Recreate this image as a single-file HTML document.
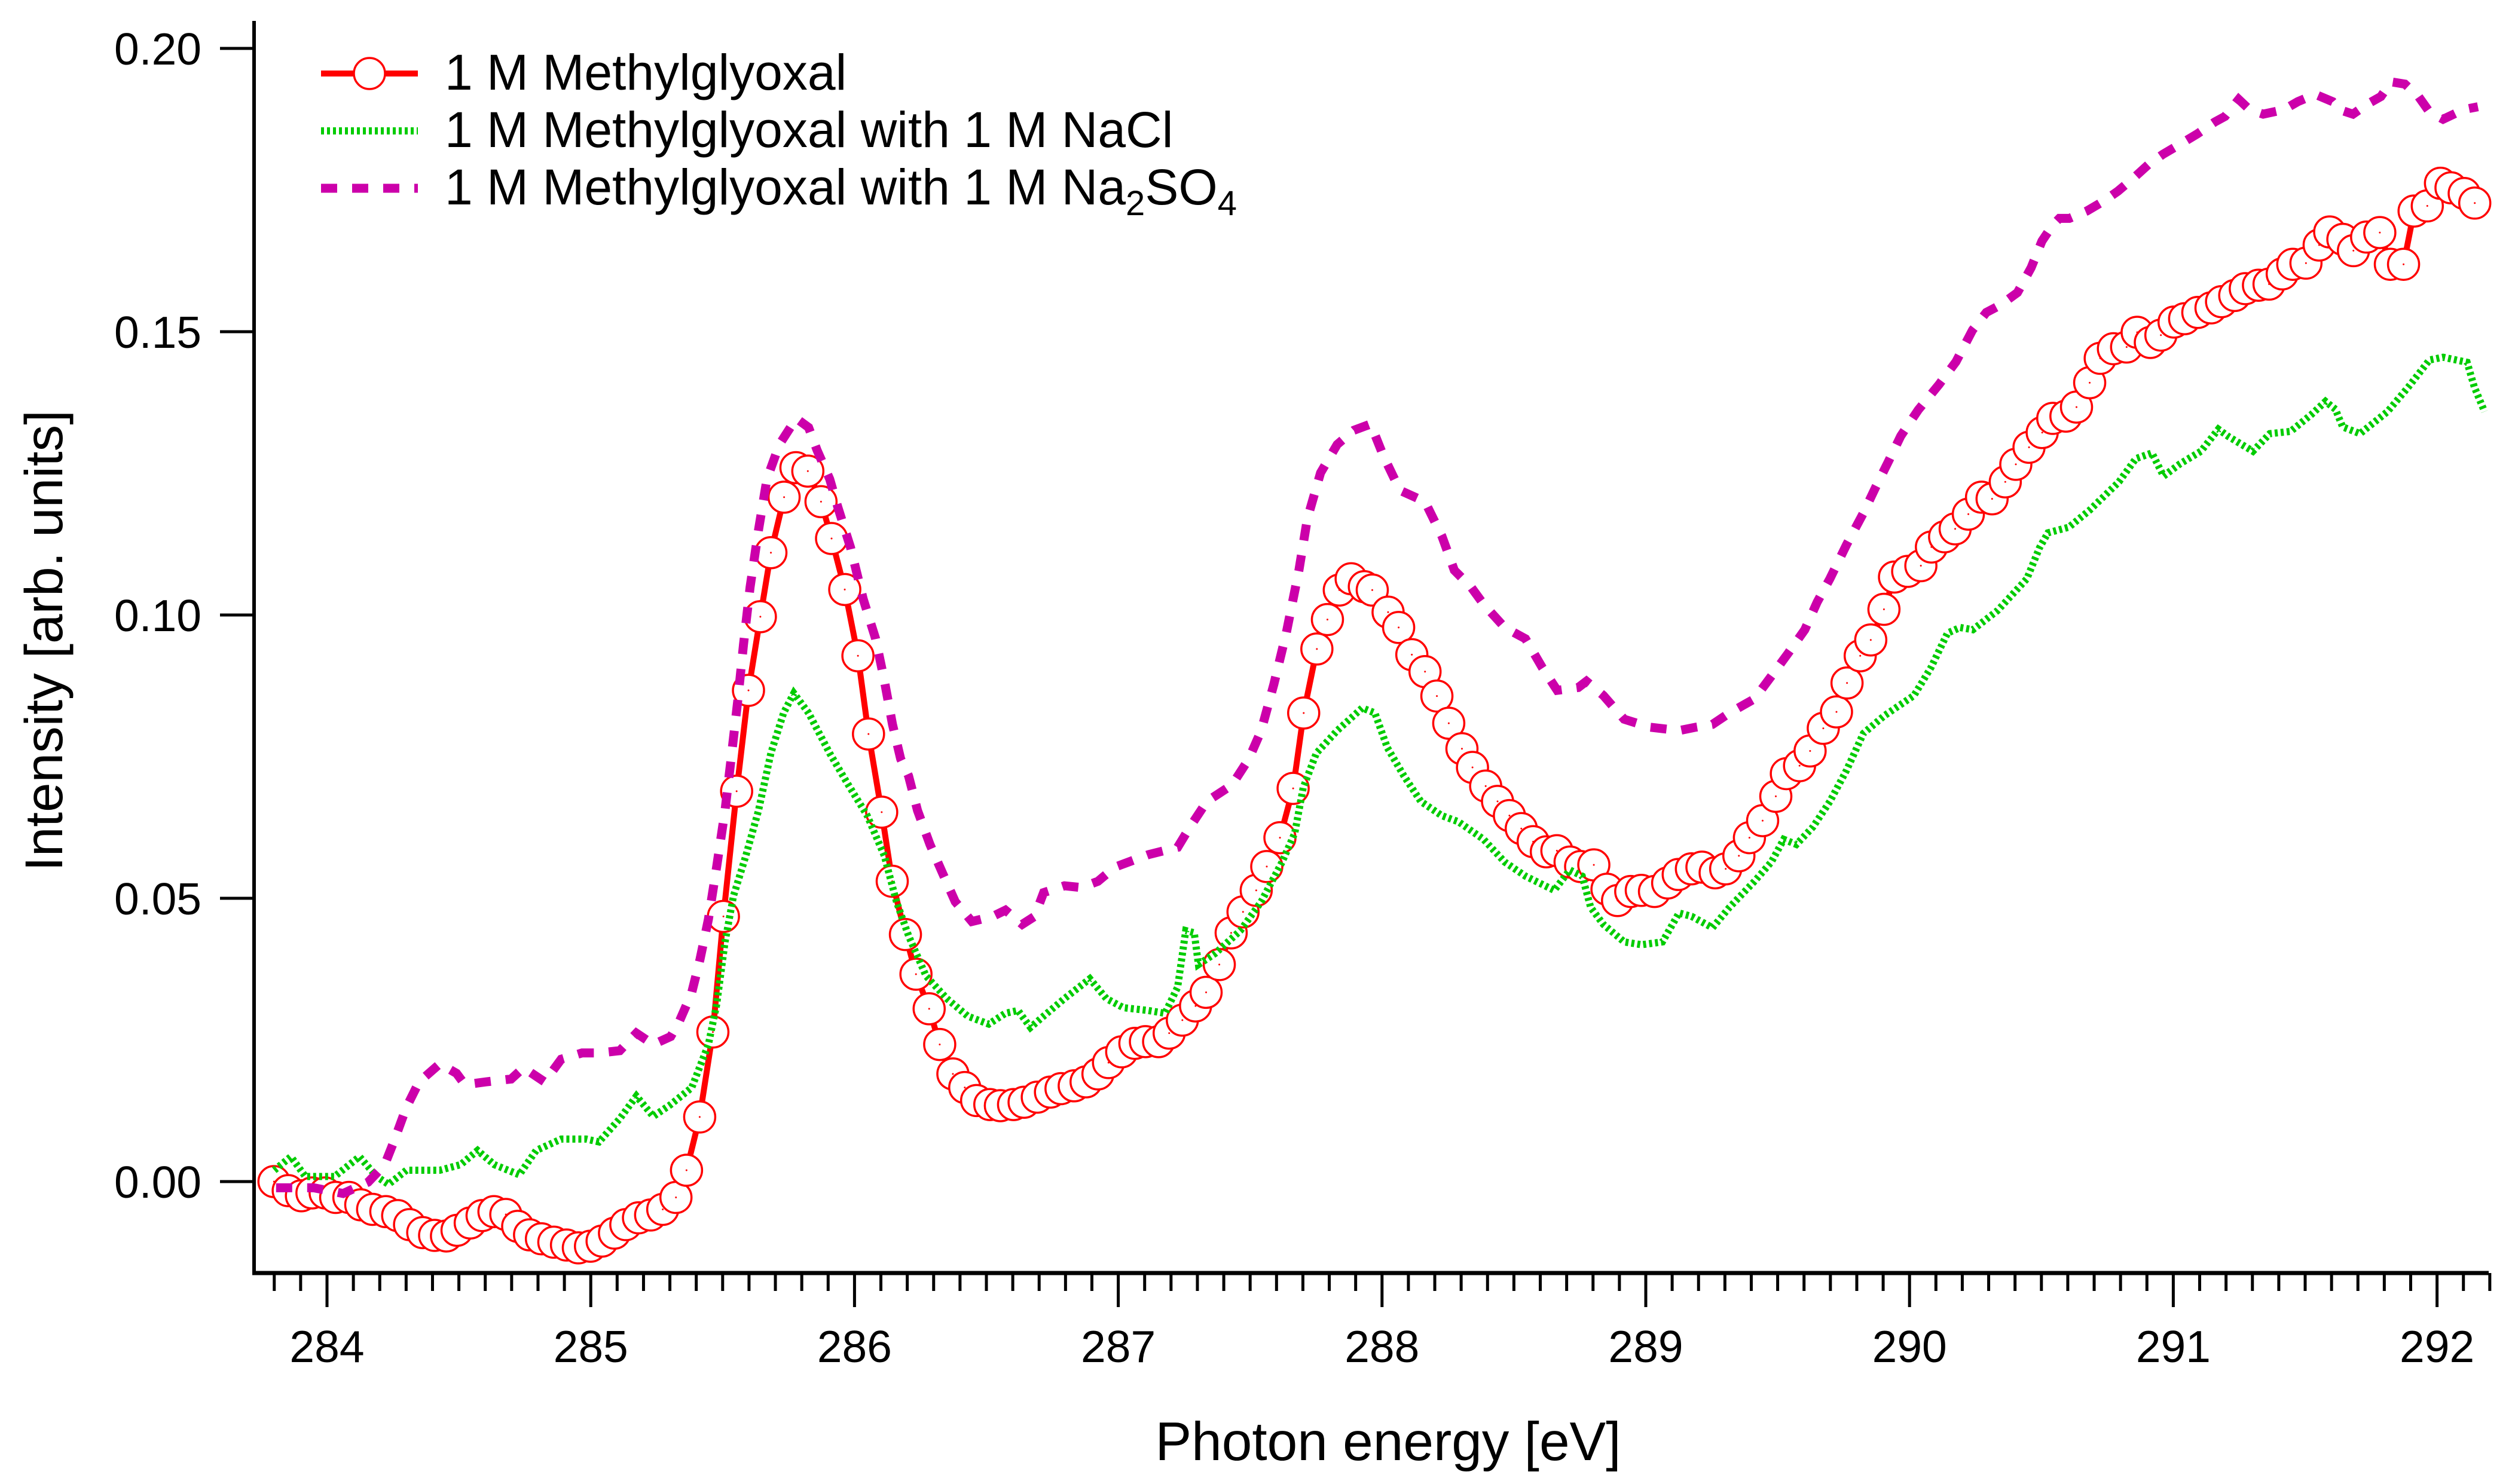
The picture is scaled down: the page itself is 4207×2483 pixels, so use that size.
<!DOCTYPE html>
<html><head><meta charset="utf-8"><style>
html,body{margin:0;padding:0;background:#fff;}
svg{display:block;font-family:"Liberation Sans",Arial,sans-serif;}
</style></head><body>
<svg id="chart" width="4207" height="2483" viewBox="0 0 4207 2483" xmlns="http://www.w3.org/2000/svg">
<rect width="4207" height="2483" fill="#fff"/>
<g id="series"></g>
<g id="axes"></g>
<g id="legend">
  <line x1="537" y1="123" x2="699" y2="123" stroke="#ff0000" stroke-width="10"/>
  <circle cx="618" cy="123" r="26" fill="#fff" stroke="#ff0000" stroke-width="3.5"/>
  <text x="744" y="150" font-size="84">1 M Methylglyoxal</text>
  <line x1="537" y1="219" x2="699" y2="219" stroke="#00cc00" stroke-width="12" stroke-dasharray="5 5"/>
  <text x="744" y="246" font-size="84">1 M Methylglyoxal with 1 M NaCl</text>
  <line x1="537" y1="315" x2="699" y2="315" stroke="#cc00aa" stroke-width="15" stroke-dasharray="27 25"/>
  <text x="744" y="342" font-size="84">1 M Methylglyoxal with 1 M Na<tspan font-size="58" dy="18">2</tspan><tspan dy="-18">SO</tspan><tspan font-size="58" dy="18">4</tspan></text>
</g>
<text x="2322" y="2443" font-size="91" text-anchor="middle">Photon energy [eV]</text>
<text transform="translate(104,1072) rotate(-90)" font-size="89" text-anchor="middle">Intensity [arb. units]</text>
</svg>
<script>
const redX=[283.799,283.853,283.903,283.943,283.993,284.033,284.083,284.128,284.173,284.223,284.268,284.313,284.363,284.408,284.453,284.493,284.543,284.588,284.633,284.678,284.723,284.768,284.813,284.86,284.908,284.953,284.999,285.043,285.09,285.133,285.181,285.227,285.273,285.323,285.363,285.413,285.463,285.503,285.553,285.598,285.643,285.683,285.733,285.778,285.823,285.873,285.913,285.963,286.013,286.053,286.103,286.143,286.193,286.233,286.283,286.323,286.373,286.418,286.463,286.513,286.553,286.603,286.643,286.693,286.743,286.783,286.833,286.878,286.923,286.963,287.013,287.063,287.103,287.153,287.193,287.243,287.293,287.333,287.383,287.428,287.473,287.523,287.563,287.613,287.663,287.703,287.753,287.793,287.838,287.883,287.933,287.963,288.023,288.063,288.113,288.163,288.208,288.253,288.303,288.343,288.393,288.438,288.483,288.528,288.573,288.623,288.663,288.713,288.753,288.803,288.853,288.893,288.943,288.983,289.033,289.083,289.123,289.173,289.213,289.263,289.303,289.353,289.393,289.443,289.493,289.533,289.583,289.623,289.673,289.723,289.763,289.813,289.853,289.903,289.943,289.993,290.043,290.083,290.133,290.173,290.223,290.273,290.313,290.363,290.403,290.453,290.503,290.543,290.593,290.633,290.683,290.723,290.773,290.823,290.863,290.913,290.953,291.003,291.043,291.093,291.143,291.183,291.233,291.273,291.323,291.363,291.413,291.453,291.503,291.553,291.593,291.643,291.683,291.733,291.783,291.823,291.873,291.913,291.963,292.013,292.053,292.103,292.143];
const redY=[0.0,-0.0016,-0.0025,-0.002,-0.002,-0.0028,-0.0028,-0.0041,-0.0049,-0.0053,-0.006,-0.0076,-0.009,-0.0095,-0.0096,-0.0086,-0.0073,-0.006,-0.0053,-0.0058,-0.0079,-0.0094,-0.0101,-0.0107,-0.0112,-0.0117,-0.0114,-0.0105,-0.0091,-0.0076,-0.0064,-0.0059,-0.0049,-0.0028,0.002,0.0114,0.0264,0.0468,0.0689,0.0867,0.0997,0.111,0.1208,0.126,0.1254,0.120,0.1135,0.1045,0.0928,0.079,0.0652,0.053,0.0436,0.0366,0.0305,0.0242,0.019,0.0166,0.0143,0.0136,0.0134,0.0136,0.014,0.0149,0.0158,0.0164,0.0169,0.0176,0.019,0.021,0.0229,0.0244,0.0247,0.0247,0.0262,0.0285,0.031,0.0334,0.0383,0.0439,0.0476,0.0514,0.0556,0.0607,0.0694,0.0827,0.094,0.0992,0.1044,0.1064,0.105,0.1044,0.1005,0.0978,0.093,0.090,0.0857,0.0809,0.0764,0.0731,0.0698,0.0671,0.0646,0.0623,0.060,0.0582,0.0584,0.0564,0.0556,0.0559,0.0516,0.0496,0.0512,0.0514,0.0512,0.0527,0.0542,0.0552,0.0555,0.0545,0.0552,0.0575,0.0607,0.0637,0.068,0.072,0.0734,0.076,0.080,0.0829,0.088,0.0928,0.0956,0.101,0.1067,0.1077,0.1087,0.112,0.1138,0.1152,0.1178,0.1208,0.1205,0.1235,0.1266,0.1296,0.1322,0.1347,0.1351,0.1367,0.141,0.1453,0.147,0.1473,0.1499,0.1481,0.1494,0.1517,0.1523,0.1534,0.1542,0.1553,0.1564,0.1576,0.1582,0.1584,0.1602,0.1619,0.1621,0.1653,0.1676,0.1663,0.1643,0.1667,0.1675,0.1619,0.1619,0.1713,0.1722,0.1762,0.1754,0.1744,0.1727];
const greenX=[283.8,283.863,283.918,284.029,284.123,284.188,284.233,284.301,284.428,284.507,284.571,284.634,284.729,284.793,284.888,284.983,285.031,285.11,285.173,285.237,285.303,285.383,285.446,285.477,285.509,285.541,285.588,285.636,285.683,285.731,285.77,285.826,285.906,285.969,286.048,286.113,286.159,286.205,286.271,286.35,286.429,286.509,286.572,286.62,286.667,286.717,286.796,286.892,286.955,287.019,287.113,287.177,287.225,287.256,287.288,287.304,287.368,287.463,287.542,287.621,287.669,287.701,287.751,287.83,287.925,287.973,288.02,288.083,288.147,288.226,288.29,288.385,288.465,288.544,288.653,288.712,288.759,288.791,288.839,288.918,288.984,289.063,289.126,289.174,289.253,289.317,289.412,289.476,289.523,289.571,289.634,289.698,289.761,289.825,289.904,290.017,290.081,290.144,290.192,290.24,290.334,290.445,290.493,290.525,290.604,290.683,290.794,290.858,290.919,290.963,291.026,291.105,291.171,291.209,291.302,291.366,291.445,291.524,291.577,291.615,291.642,291.708,291.812,291.892,291.971,292.023,292.114,292.141,292.18];
const greenY=[0.002,0.0044,0.0009,0.0009,0.0044,0.0009,-0.0005,0.002,0.002,0.003,0.0055,0.003,0.0012,0.0055,0.0075,0.0075,0.007,0.0111,0.0151,0.0115,0.0136,0.0166,0.0242,0.0312,0.0423,0.0504,0.0575,0.0655,0.0756,0.0827,0.0862,0.0827,0.0756,0.0706,0.0646,0.0575,0.0494,0.0434,0.0363,0.0323,0.0292,0.0278,0.0297,0.0302,0.0272,0.0292,0.0323,0.0358,0.0323,0.0307,0.0302,0.0297,0.0343,0.0443,0.0439,0.0383,0.0403,0.0443,0.0494,0.0564,0.0615,0.0695,0.0756,0.0796,0.0836,0.0827,0.0766,0.0716,0.0671,0.0646,0.0635,0.0604,0.0564,0.0539,0.0514,0.055,0.0539,0.0484,0.0454,0.0423,0.0418,0.0423,0.0474,0.0468,0.0448,0.0484,0.053,0.0564,0.0604,0.0595,0.0626,0.0671,0.0726,0.0791,0.0822,0.0858,0.0907,0.0968,0.0978,0.0974,0.1008,0.1064,0.1119,0.1145,0.1155,0.1185,0.1235,0.1276,0.1286,0.1245,0.1267,0.1289,0.1328,0.1315,0.1289,0.132,0.1324,0.1354,0.1377,0.1363,0.1332,0.132,0.1359,0.1403,0.145,0.1455,0.1446,0.1403,0.1359];
const magX=[283.807,283.95,284.061,284.156,284.219,284.253,284.301,284.349,284.428,284.491,284.523,284.602,284.698,284.745,284.825,284.888,284.967,285.031,285.11,285.173,285.237,285.303,285.335,285.382,285.414,285.446,285.477,285.509,285.532,285.557,285.579,285.604,285.636,285.668,285.715,285.779,285.826,285.858,285.906,285.937,285.985,286.033,286.08,286.112,286.144,286.175,286.205,286.239,286.286,286.334,286.382,286.445,286.524,286.572,286.636,286.683,286.717,286.796,286.86,286.923,286.987,287.114,287.225,287.272,287.336,287.431,287.495,287.542,287.59,287.637,287.685,287.717,287.767,287.83,287.893,287.957,288.005,288.068,288.163,288.227,288.274,288.338,288.385,288.465,288.544,288.608,288.664,288.744,288.775,288.839,288.918,289.015,289.126,289.19,289.253,289.317,289.412,289.476,289.539,289.603,289.65,289.698,289.761,289.825,289.872,289.92,289.967,290.033,290.112,290.176,290.239,290.291,290.344,290.409,290.461,290.502,290.541,290.568,290.606,290.672,290.738,290.79,290.856,290.908,290.96,291.026,291.091,291.157,291.196,291.248,291.289,291.341,291.42,291.472,291.538,291.604,291.629,291.681,291.733,291.787,291.826,291.878,291.93,291.971,292.023,292.1,292.155];
const magY=[-0.0011,-0.0011,-0.0021,-0.0001,0.003,0.007,0.0131,0.0176,0.0208,0.0191,0.0171,0.0176,0.0181,0.0201,0.0176,0.0216,0.0227,0.0227,0.0231,0.0262,0.0242,0.0256,0.0282,0.0332,0.0392,0.0463,0.0555,0.0655,0.0746,0.0847,0.0948,0.1049,0.115,0.124,0.1301,0.1347,0.1331,0.1291,0.124,0.119,0.1119,0.1028,0.0958,0.0887,0.0807,0.0746,0.0716,0.0655,0.0595,0.0544,0.0494,0.0459,0.0468,0.0479,0.0454,0.0468,0.051,0.0522,0.0519,0.053,0.0555,0.0577,0.059,0.0626,0.0671,0.070,0.0746,0.0796,0.0878,0.0968,0.1079,0.117,0.1251,0.1301,0.1326,0.1337,0.1281,0.122,0.12,0.1139,0.1079,0.1049,0.1019,0.0978,0.0958,0.0907,0.0867,0.0872,0.0883,0.0858,0.0816,0.0802,0.0796,0.0802,0.0807,0.0827,0.0852,0.0892,0.0932,0.0974,0.1023,0.1064,0.1124,0.118,0.1226,0.1271,0.1316,0.1362,0.1407,0.1447,0.1503,0.1534,0.1547,0.1569,0.1613,0.166,0.1687,0.17,0.17,0.1713,0.1731,0.1748,0.1774,0.1796,0.1813,0.1831,0.1849,0.187,0.188,0.191,0.1892,0.1884,0.1892,0.1906,0.1919,0.1906,0.1892,0.1884,0.1901,0.1915,0.1941,0.1937,0.1915,0.1888,0.1875,0.1892,0.1897];
const xTickLabels=["284","285","286","287","288","289","290","291","292"];
const yTickLabels=["0.00","0.05","0.10","0.15","0.20"];

const NS="http://www.w3.org/2000/svg";
const X0=547, XPER=441.2, Y0=1977, YPER=9480;
function xs(v){return X0+(v-284)*XPER;}
function ys(v){return Y0-v*YPER;}
function mk(tag,attrs,parent){const e=document.createElementNS(NS,tag);for(const k in attrs)e.setAttribute(k,attrs[k]);parent.appendChild(e);return e;}
function pathD(xa,ya){return xa.map((x,i)=>(i?'L':'M')+xs(x).toFixed(1)+' '+ys(ya[i]).toFixed(1)).join(' ');}

const series=document.getElementById('series');
const redLine=mk('path',{d:pathD(redX,redY),fill:'none',stroke:'#ff0000','stroke-width':10,'stroke-linejoin':'round'},series);


redX.forEach((x,i)=>{
  const c=mk('circle',{cx:xs(x),cy:ys(redY[i]),r:26,fill:'#fff',stroke:'#ff0000','stroke-width':3.5},series);
  
  
  const d=mk('circle',{cx:xs(x),cy:ys(redY[i]),r:1.5,fill:'#ff0000'},series);
  
  
});
const gLine=mk('path',{d:pathD(greenX,greenY),fill:'none',stroke:'#00cc00','stroke-width':12,'stroke-dasharray':'5 5'},series);


const mLine=mk('path',{d:pathD(magX,magY),fill:'none',stroke:'#cc00aa','stroke-width':15,'stroke-dasharray':'27 25'},series);



const axes=document.getElementById('axes');
const yAxis=mk('line',{x1:425,y1:35,x2:425,y2:2133,stroke:'#000','stroke-width':6},axes);


const xAxis=mk('line',{x1:422,y1:2130,x2:4163,y2:2130,stroke:'#000','stroke-width':7},axes);


yTickLabels.forEach(lbl=>{
  const v=parseFloat(lbl), y=ys(v);
  const t=mk('line',{x1:368,y1:y,x2:425,y2:y,stroke:'#000','stroke-width':5},axes);
  
  
  const tx=mk('text',{x:337,y:y+27,'font-size':75,'text-anchor':'end'},axes);
  tx.textContent=lbl;
  
  
});
for(let k=2838;k<=2924;k++){
  const v=k/10, x=xs(v);
  if(x<424||x>4166) continue;
  const major=(k%10===0);
  const t=mk('line',{x1:x,y1:2130,x2:x,y2:major?2187:2160,stroke:'#000','stroke-width':5},axes);
  
  
}
xTickLabels.forEach(lbl=>{
  const x=xs(parseFloat(lbl));
  const tx=mk('text',{x:x,y:2279,'font-size':75,'text-anchor':'middle'},axes);
  tx.textContent=lbl;
  
  
});
</script>
</body></html>
